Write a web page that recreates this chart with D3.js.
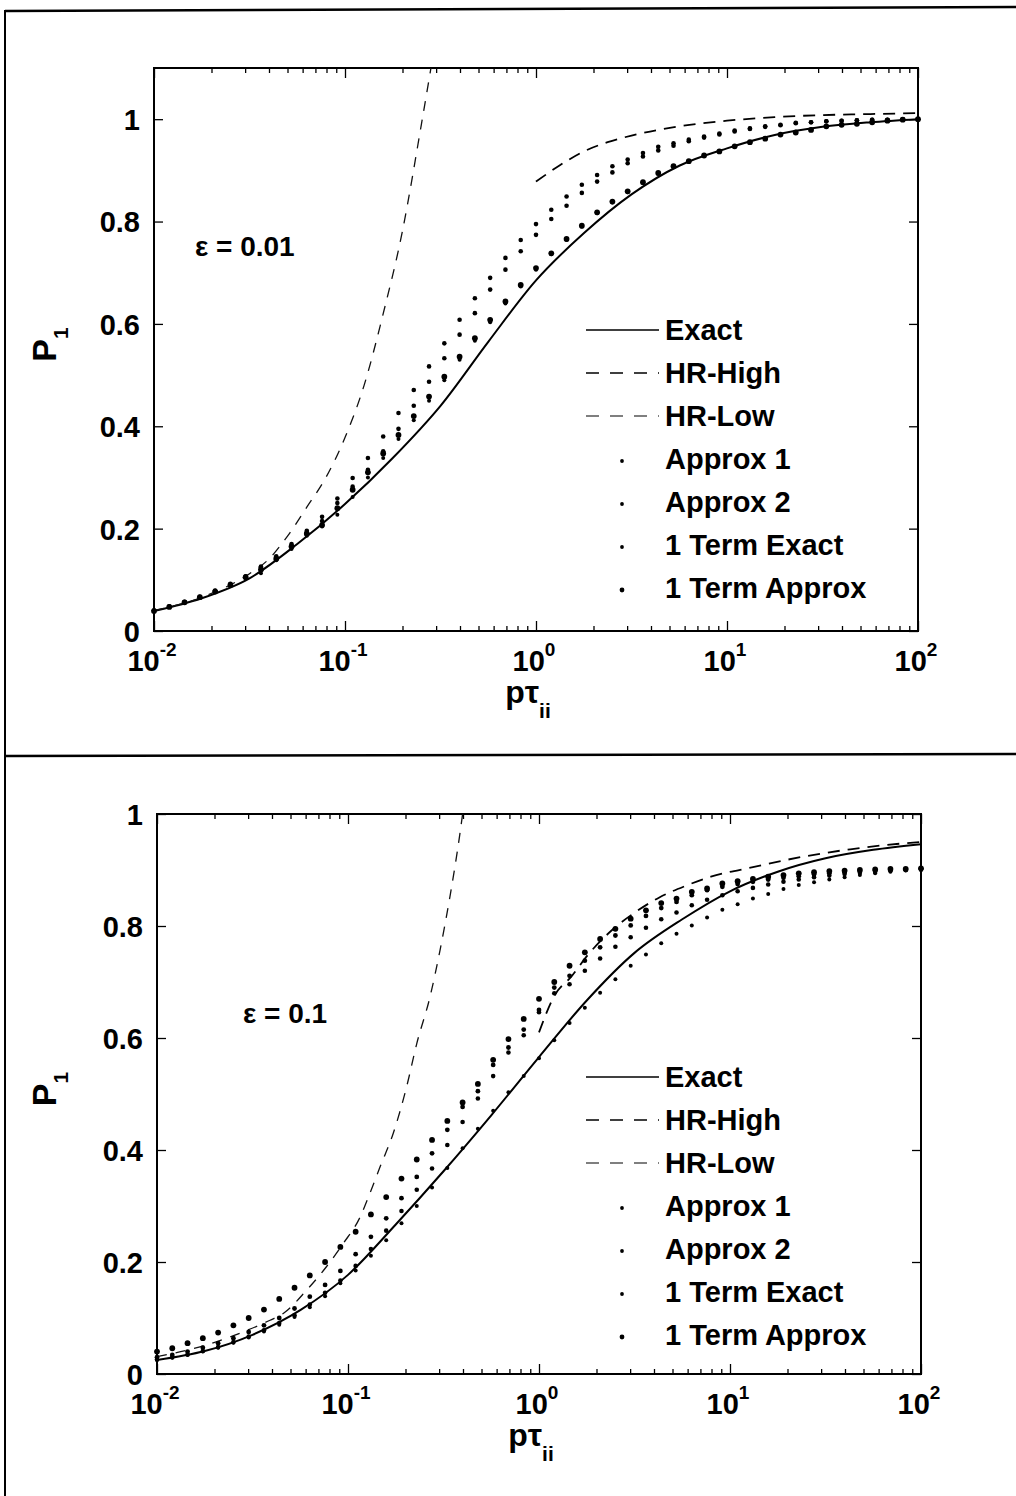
<!DOCTYPE html>
<html lang="en">
<head>
<meta charset="utf-8">
<title>P1 versus p tau</title>
<script src="https://d3js.org/d3.v7.min.js"></script>
<style>
  body { margin: 0; background: #fff; }
  svg { display: block; }
  text { font-family: "Liberation Sans", Arial, Helvetica, sans-serif; font-weight: bold; fill: #000; }
</style>
</head>
<body>
<div id="graph"></div>
<script>

// exponents of p*tau_ii (value = 10^e) where the dotted series are sampled
var dotExp = [-2,-1.92,-1.84,-1.76,-1.68,-1.6,-1.52,-1.44,-1.36,-1.28,-1.2,-1.12,-1.04,-0.96,-0.88,-0.8,-0.72,-0.64,-0.56,-0.48,
              -0.4,-0.32,-0.24,-0.16,-0.08,0,0.08,0.16,0.24,0.32,0.4,0.48,0.56,0.64,0.72,0.8,0.88,0.96,1.04,1.12,
              1.2,1.28,1.36,1.44,1.52,1.6,1.68,1.76,1.84,1.92,2];

// exponents for the solid "Exact" curve
var exactExp = [-2,-1.75,-1.5,-1.25,-1,-0.75,-0.5,-0.25,0,0.25,0.5,0.75,1,1.25,1.5,1.75,2];

// ---- epsilon = 0.01 (top panel) ----
var topExact = [0.039,0.064,0.103,0.170,0.248,0.338,0.440,0.565,0.685,0.777,0.853,0.909,0.943,0.969,0.985,0.994,1.000];

var topHighExp = [0,0.125,0.25,0.375,0.5,0.75,1,1.25,1.5,1.75,2];
var topHigh    = [0.878,0.910,0.937,0.955,0.968,0.986,0.997,1.004,1.008,1.010,1.012];

var topLowExp = [-2,-1.75,-1.5,-1.4,-1.3,-1.2,-1.1,-1,-0.9,-0.8,-0.7,-0.6,-0.55];
var topLow    = [0.040,0.066,0.112,0.140,0.186,0.242,0.300,0.378,0.480,0.620,0.780,0.990,1.100];

var topApprox1 = [0.040,0.048,0.057,0.067,0.079,0.092,0.107,0.126,0.146,0.170,
                  0.196,0.223,0.259,0.299,0.338,0.380,0.426,0.471,0.517,0.562,
                  0.608,0.650,0.690,0.729,0.764,0.795,0.823,0.849,0.872,0.891,
                  0.908,0.921,0.934,0.946,0.953,0.960,0.966,0.972,0.978,0.982,
                  0.986,0.989,0.993,0.994,0.996,0.997,0.998,0.999,0.999,1.000,1.000];
var topApprox2 = [0.040,0.048,0.056,0.066,0.078,0.091,0.106,0.124,0.144,0.167,
                  0.193,0.215,0.250,0.282,0.315,0.351,0.395,0.440,0.487,0.533,
                  0.579,0.621,0.667,0.706,0.742,0.774,0.805,0.831,0.856,0.878,
                  0.896,0.914,0.927,0.939,0.948,0.957,0.964,0.970,0.976,0.981,
                  0.985,0.988,0.992,0.994,0.996,0.997,0.998,0.999,0.999,1.000,1.000];
var topTermExact = [0.039,0.047,0.055,0.065,0.076,0.089,0.103,0.113,0.138,0.160,
                    0.186,0.204,0.227,0.262,0.300,0.338,0.375,0.412,0.450,0.490,
                    0.530,0.567,0.603,0.640,0.673,0.706,0.736,0.764,0.790,0.816,
                    0.837,0.857,0.876,0.893,0.907,0.918,0.928,0.937,0.946,0.954,
                    0.962,0.969,0.974,0.979,0.985,0.989,0.991,0.994,0.997,0.999,1.000];
var topTermApprox = [0.039,0.047,0.056,0.066,0.077,0.090,0.105,0.120,0.141,0.165,
                     0.190,0.207,0.240,0.276,0.310,0.347,0.383,0.420,0.458,0.497,
                     0.536,0.572,0.608,0.644,0.676,0.709,0.738,0.766,0.792,0.818,
                     0.839,0.859,0.877,0.895,0.908,0.918,0.929,0.937,0.947,0.955,
                     0.962,0.970,0.974,0.979,0.986,0.989,0.991,0.994,0.997,0.999,1.000];

// ---- epsilon = 0.1 (bottom panel) ----
var botExact = [0.025,0.041,0.070,0.114,0.177,0.267,0.362,0.462,0.566,0.667,0.752,0.812,0.862,0.897,0.921,0.936,0.946];

var botHighExp = [0,0.08,0.17,0.26,0.39,0.51,0.63,0.77,0.9,1.12,1.37,1.63,1.89,2];
var botHigh    = [0.610,0.675,0.710,0.750,0.795,0.826,0.851,0.872,0.888,0.905,0.923,0.937,0.947,0.950];

var botLowExp = [-2,-1.74,-1.565,-1.408,-1.339,-1.216,-1.112,-1.025,-0.937,-0.885,-0.832,-0.763,-0.693,-0.64,-0.571,-0.518,-0.466,-0.414,-0.4];
var botLow    = [0.031,0.052,0.073,0.096,0.108,0.150,0.192,0.233,0.280,0.323,0.370,0.430,0.513,0.590,0.673,0.757,0.853,0.965,1.000];

var botApprox1 = [0.025,0.029,0.034,0.040,0.047,0.056,0.065,0.076,0.088,0.102,
                  0.119,0.139,0.162,0.185,0.211,0.239,0.269,0.300,0.333,0.368,
                  0.403,0.438,0.470,0.503,0.532,0.564,0.596,0.627,0.654,0.681,
                  0.705,0.729,0.749,0.769,0.786,0.801,0.815,0.829,0.839,0.849,
                  0.857,0.866,0.873,0.878,0.883,0.887,0.891,0.894,0.897,0.899,0.900];
var botApprox2 = [0.030,0.034,0.040,0.047,0.055,0.064,0.075,0.087,0.100,0.117,
                  0.138,0.159,0.184,0.214,0.245,0.278,0.314,0.352,0.394,0.436,
                  0.477,0.505,0.552,0.583,0.615,0.650,0.690,0.711,0.738,0.762,
                  0.783,0.801,0.818,0.832,0.843,0.855,0.864,0.870,0.875,0.879,
                  0.883,0.886,0.889,0.892,0.894,0.896,0.898,0.899,0.900,0.901,0.902];
var botTermExact = [0.026,0.030,0.035,0.041,0.048,0.057,0.067,0.078,0.091,0.105,
                    0.124,0.145,0.167,0.193,0.223,0.256,0.291,0.329,0.367,0.409,
                    0.450,0.492,0.532,0.574,0.605,0.646,0.680,0.696,0.720,0.742,
                    0.763,0.780,0.797,0.812,0.824,0.837,0.847,0.855,0.862,0.868,
                    0.874,0.879,0.883,0.887,0.890,0.893,0.895,0.897,0.899,0.900,0.901];
var botTermApprox = [0.040,0.046,0.055,0.064,0.074,0.087,0.100,0.115,0.134,0.154,
                     0.176,0.200,0.227,0.254,0.285,0.316,0.349,0.383,0.418,0.452,
                     0.485,0.518,0.561,0.598,0.634,0.670,0.700,0.729,0.753,0.777,
                     0.795,0.813,0.828,0.841,0.849,0.861,0.867,0.876,0.880,0.884,
                     0.888,0.891,0.894,0.896,0.898,0.899,0.900,0.901,0.902,0.902,0.903];

var legendNames = ["Exact", "HR-High", "HR-Low", "Approx 1", "Approx 2", "1 Term Exact", "1 Term Approx"];
var xTickExp = [-2, -1, 0, 1, 2];
var yTicks = [0, 0.2, 0.4, 0.6, 0.8, 1];

var W = 1016, H = 1496;

var svg = d3.select("#graph").append("svg")
    .attr("width", W)
    .attr("height", H);

// outer frame of the figure (top edge, left edge, divider between panels)
svg.append("line").attr("x1", 5).attr("y1", 11).attr("x2", W).attr("y2", 7)
    .attr("stroke", "#000").attr("stroke-width", 2.5);
svg.append("line").attr("x1", 5).attr("y1", 10).attr("x2", 5).attr("y2", H)
    .attr("stroke", "#000").attr("stroke-width", 2);
svg.append("line").attr("x1", 5).attr("y1", 756).attr("x2", W).attr("y2", 754)
    .attr("stroke", "#000").attr("stroke-width", 2.5);

var panels = [
  { id: "top", left: 154, top: 68, right: 918, bottom: 631, yMax: 1.1,
    eps: "\u03b5 = 0.01", epsX: 195, epsY: 256, legendY: 330,
    exact: topExact, highExp: topHighExp, high: topHigh, lowExp: topLowExp, low: topLow,
    dots: [topApprox1, topApprox2, topTermExact, topTermApprox] },
  { id: "bot", left: 157, top: 814, right: 921, bottom: 1374, yMax: 1.0,
    eps: "\u03b5 = 0.1", epsX: 243, epsY: 1023, legendY: 1077,
    exact: botExact, highExp: botHighExp, high: botHigh, lowExp: botLowExp, low: botLow,
    dots: [botApprox1, botApprox2, botTermExact, botTermApprox] }
];

// marker radius for Approx 1, Approx 2, 1 Term Exact, 1 Term Approx
var dotR = { top: [2.3, 2.3, 2.0, 2.9], bot: [2.0, 2.4, 2.3, 2.9] };

panels.forEach(function(p) {
  var w = p.right - p.left, h = p.bottom - p.top;

  var x = d3.scaleLog().domain([0.01, 100]).range([0, w]);
  var y = d3.scaleLinear().domain([0, p.yMax]).range([h, 0]);

  var g = svg.append("g").attr("transform", "translate(" + p.left + "," + p.top + ")");

  g.append("clipPath").attr("id", "clip-" + p.id)
    .append("rect").attr("width", w).attr("height", h);

  // ticks, all pointing inwards
  var majors = xTickExp.map(function(e) { return Math.pow(10, e); });
  var minors = x.ticks().filter(function(t) { return majors.indexOf(t) < 0; });

  function tidy(sel) {
    sel.select(".domain").remove();
    sel.selectAll(".tick line").attr("stroke", "#000").attr("stroke-width", 1.3);
  }

  g.append("g").attr("transform", "translate(0," + h + ")")
    .call(d3.axisBottom(x).tickValues(majors).tickSize(-10).tickFormat("")).call(tidy);
  g.append("g").attr("transform", "translate(0," + h + ")")
    .call(d3.axisBottom(x).tickValues(minors).tickSize(-5).tickFormat("")).call(tidy);
  g.append("g")
    .call(d3.axisTop(x).tickValues(majors).tickSize(-10).tickFormat("")).call(tidy);
  g.append("g")
    .call(d3.axisTop(x).tickValues(minors).tickSize(-5).tickFormat("")).call(tidy);

  var yl = g.append("g")
    .call(d3.axisLeft(y).tickValues(yTicks).tickSize(-9).tickPadding(14)
      .tickFormat(function(d) { return d3.format("~g")(d); }))
    .call(tidy);
  yl.attr("font-family", null).attr("font-size", null);
  yl.selectAll("text").attr("font-size", 29).attr("dy", "0.36em");

  g.append("g").attr("transform", "translate(" + w + ",0)")
    .call(d3.axisRight(y).tickValues(yTicks).tickSize(-9).tickFormat("")).call(tidy);

  // x tick labels: 10 with superscript exponent
  xTickExp.forEach(function(e) {
    var t = g.append("text")
      .attr("x", x(Math.pow(10, e)) - 2)
      .attr("y", h + 40)
      .attr("text-anchor", "middle")
      .attr("font-size", 29)
      .text("10");
    t.append("tspan").attr("dy", -15).attr("font-size", 19).text(e);
  });

  // axis box
  g.append("rect").attr("width", w).attr("height", h)
    .attr("fill", "none").attr("stroke", "#000").attr("stroke-width", 2);

  // axis titles
  var xt = g.append("text").attr("x", w / 2 - 8).attr("y", h + 72)
    .attr("text-anchor", "middle").attr("font-size", 32).text("p\u03c4");
  xt.append("tspan").attr("dy", 15).attr("font-size", 21).text("ii");

  var yt = g.append("text")
    .attr("transform", "translate(" + (56 - p.left) + "," + (h / 2 - 5) + ") rotate(-90)")
    .attr("text-anchor", "middle").attr("font-size", 34).text("P");
  yt.append("tspan").attr("dy", 12).attr("font-size", 21).text("1");

  g.append("text").attr("x", p.epsX - p.left).attr("y", p.epsY - p.top)
    .attr("font-size", 28).text(p.eps);

  // curves
  var line = d3.line()
    .x(function(d) { return x(Math.pow(10, d[0])); })
    .y(function(d) { return y(d[1]); })
    .curve(d3.curveMonotoneX);

  var curves = g.append("g").attr("clip-path", "url(#clip-" + p.id + ")");

  curves.append("path")
    .attr("d", line(d3.zip(exactExp, p.exact)))
    .attr("fill", "none").attr("stroke", "#000").attr("stroke-width", 2);
  curves.append("path")
    .attr("d", line(d3.zip(p.highExp, p.high)))
    .attr("fill", "none").attr("stroke", "#000").attr("stroke-width", 1.8)
    .attr("stroke-dasharray", "12,8");
  curves.append("path")
    .attr("d", line(d3.zip(p.lowExp, p.low)))
    .attr("fill", "none").attr("stroke", "#111").attr("stroke-width", 1.3)
    .attr("stroke-dasharray", "10,9");

  p.dots.forEach(function(vals, i) {
    g.append("g").selectAll("circle")
      .data(d3.zip(dotExp, vals))
      .enter().append("circle")
        .attr("cx", function(d) { return x(Math.pow(10, d[0])); })
        .attr("cy", function(d) { return y(d[1]); })
        .attr("r", dotR[p.id][i])
        .attr("fill", "#000");
  });

  // legend
  var lg = svg.append("g").attr("transform", "translate(0," + p.legendY + ")");
  var rowH = 43;
  legendNames.forEach(function(name, i) {
    var ry = i * rowH;
    if (i === 0) {
      lg.append("line").attr("x1", 586).attr("x2", 659).attr("y1", ry).attr("y2", ry)
        .attr("stroke", "#000").attr("stroke-width", 1.6);
    } else if (i < 3) {
      lg.append("line").attr("x1", 586).attr("x2", 659).attr("y1", ry).attr("y2", ry)
        .attr("stroke", "#000").attr("stroke-width", i === 1 ? 1.6 : 1.2)
        .attr("stroke-dasharray", "13,11");
    } else {
      lg.append("circle").attr("cx", 622).attr("cy", ry + 2)
        .attr("r", i === 6 ? 2.4 : 1.9).attr("fill", "#000");
    }
    lg.append("text").attr("x", 665).attr("y", ry).attr("dy", "0.36em")
      .attr("font-size", 29).text(name);
  });
});

</script>
</body>
</html>
